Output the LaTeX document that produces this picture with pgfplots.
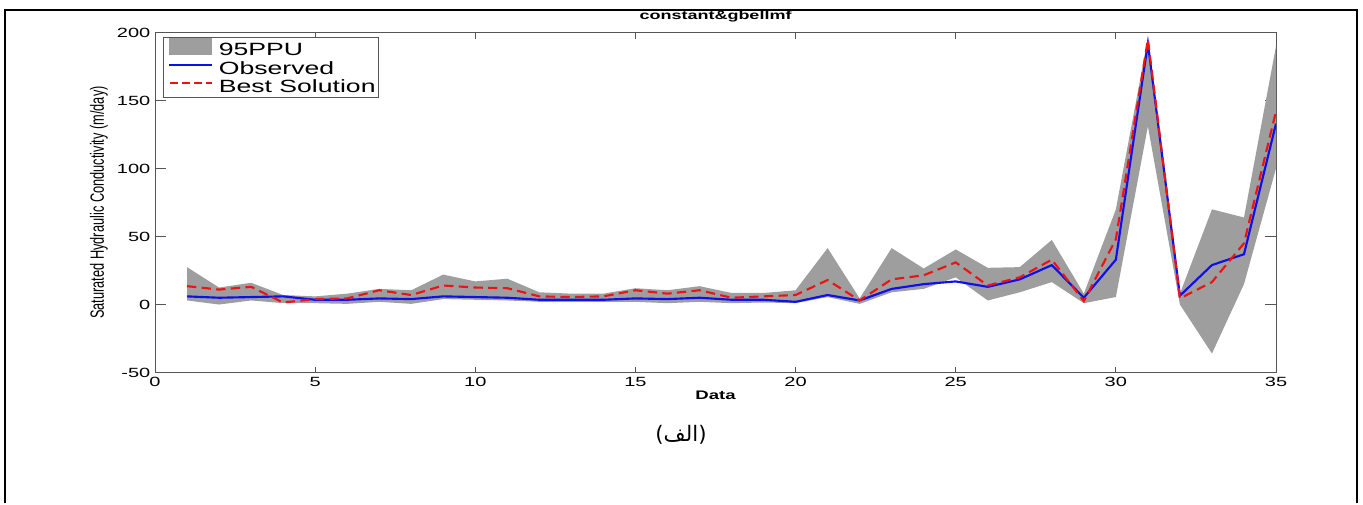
\documentclass[border=0pt]{standalone}
\usepackage{pgfplots}
\pgfplotsset{compat=1.18}
\usepgfplotslibrary{fillbetween}
\usepackage{pgfplotstable}
\usepackage{graphicx}
\usepackage{fontspec}
\setmainfont{Liberation Sans}
\newfontfamily\wide{Liberation Sans}[FakeStretch=1.5]
\newfontfamily\arabicfont[Script=Arabic]{DejaVu Sans}
\TeXXeTstate=1
\definecolor{ppu}{RGB}{158,158,158}
\definecolor{axgray}{RGB}{85,85,85}
\definecolor{obsblue}{RGB}{15,15,235}
\definecolor{bestred}{RGB}{235,20,20}

\pgfplotstableread{
x obs best up low
1 6 13.5 27.5 3
2 5 11 12.5 0
3 5.5 13 16 3
4 6 1.5 7 1
5 3.5 4 6 1
6 3.5 4.5 8 0.5
7 4.5 10.5 11.5 2
8 4 7 10.5 0.5
9 6 14 22 4
10 5.5 12.5 17 3.5
11 5 12 19 3
12 3.5 6 9 2
13 3.5 5.5 8 2
14 3.5 6 8 2
15 4.5 10.5 12 2
16 4 8 10.5 1
17 5 10.5 13.5 2
18 3.5 5 8.5 1
19 3.5 6 8.5 1.5
20 2 7 10.5 1
21 7 18 41.5 5.5
22 3 3 4.5 0.5
23 11.5 18.5 41.5 9
24 15 21.5 26.5 11.5
25 17 31 40.5 20
26 13 14 27 3
27 18.5 20 27.5 9
28 29 33 47.5 16.5
29 5 2.5 8 1
30 33 48 70 5.5
31 192 195 196 131
32 6.5 4.5 8 0
33 29 16.5 70 -36
34 37 45 64 15
35 133 142 190 100
}\data

\begin{document}
\begin{tikzpicture}
\begin{axis}[
  at={(0pt,0pt)}, anchor=south west,
  scale only axis, width=840.75pt, height=255pt,
  xmin=0, xmax=35, ymin=-50, ymax=200,
  xtick={0,5,...,35}, ytick={-50,0,...,200},
  tick align=inside,
  axis line style={axgray, line width=0.6pt},
  every tick/.style={axgray, line width=0.6pt},
  xtick style={/pgfplots/major tick length=4.5pt},
  ytick style={/pgfplots/major tick length=8pt},
  /pgf/number format/assume math mode=true,
  tick label style={font=\wide\fontsize{10}{11}\selectfont, text=black},
  title={constant\&gbellmf},
  title style={font=\wide\bfseries\fontsize{9}{10}\selectfont, at={(axis description cs:0.5,1)}, anchor=center, yshift=6.3pt},
  xlabel={Data},
  x label style={font=\wide\bfseries\fontsize{9.3}{10}\selectfont, at={(axis description cs:0.5,0)}, anchor=center, yshift=-16.9pt},
  ylabel={\scalebox{1}[1.5]{Saturated Hydraulic Conductivity (m/day)}},
  y label style={font=\fontsize{9.6}{10}\selectfont, at={(axis description cs:-0.0500,0.5)}, anchor=center},
  legend style={at={(axis description cs:0,1)}, anchor=north west, xshift=6pt, yshift=-3.2pt,
    draw=axgray, line width=0.6pt, font=\wide\fontsize{13.3}{15}\selectfont,
    inner xsep=1pt, inner ysep=0.5pt, row sep=0pt,
    nodes={inner sep=1pt, text height=9.4pt, text depth=2.5pt},
    cells={anchor=west}},
  legend cell align=left,
]
\addplot[name path=up, draw=none, forget plot] table[x=x,y=up]{\data};
\addplot[name path=low, draw=none, forget plot] table[x=x,y=low]{\data};
\addplot[fill=ppu, draw=none,
  legend image code/.code={\path (-2.5pt,0pt) (35.5pt,0pt); \fill[ppu] (0pt,-3pt) rectangle (32pt,9.75pt);}]
  fill between[of=up and low];
\addplot[obsblue, line width=1.6pt,
  legend image code/.code={\path (-2.5pt,0pt) (35.5pt,0pt); \draw[obsblue, line width=1.2pt] (0pt,3.5pt) -- (32pt,3.5pt);}]
  table[x=x,y=obs]{\data};
\addplot[bestred, line width=1.6pt, dash pattern=on 7pt off 4pt,
  legend image code/.code={\path (-2.5pt,0pt) (35.5pt,0pt); \draw[bestred, line width=1.2pt, dash pattern=on 6pt off 3pt] (1pt,3.5pt) -- (32pt,3.5pt);}]
  table[x=x,y=best]{\data};
\legend{95PPU, Observed, Best Solution}
\end{axis}
\node[font=\arabicfont\fontsize{16}{18}\selectfont, anchor=center] at (394.5pt,-46.9pt) {\beginR(الف)\endR};
\draw[line width=1.5pt] (-112.5pt,-97.9pt) -- (-112.5pt,271.9pt) -- (901.5pt,271.9pt) -- (901.5pt,-97.9pt);
\path (-116.25pt,-97.9pt) rectangle (906pt,279.4pt);
\end{tikzpicture}
\end{document}
